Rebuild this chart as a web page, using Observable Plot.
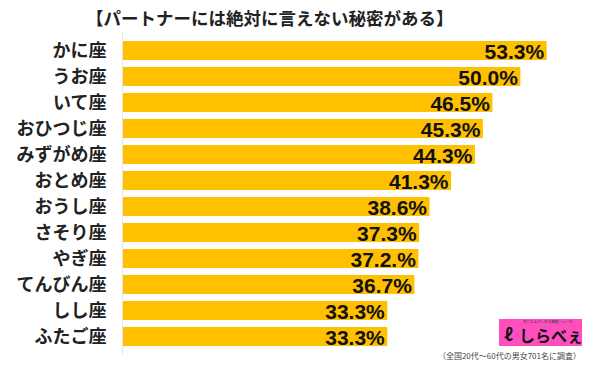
<!DOCTYPE html>
<html>
<head>
<meta charset="utf-8">
<script src="https://cdn.jsdelivr.net/npm/d3@7"></script>
<script src="https://cdn.jsdelivr.net/npm/@observablehq/plot@0.6"></script>
<style>
  html, body { margin: 0; padding: 0; background: #fff; }
  body { width: 600px; height: 365px; position: relative; overflow: hidden; font-family: "Noto Sans CJK JP", sans-serif; }
  #title { height: 33px; line-height: 36px; font-size: 17.5px; font-weight: bold; color: #222; padding-left: 86px; white-space: nowrap; }
  #chart { height: 321px; }
  #caption { position: absolute; right: 19px; top: 350px; font-size: 8px; color: #444; white-space: nowrap; line-height: 11px; }
  #logo { position: absolute; left: 499px; top: 319px; width: 83px; height: 27px; background: #ff4fbf; box-sizing: border-box; overflow: hidden; }
  #logo .small { position: absolute; left: 24px; top: 1px; font-size: 3.5px; line-height: 4px; color: #333; white-space: nowrap; }
  #logo .big { position: absolute; left: 20px; top: 7px; font-size: 16px; line-height: 18px; font-weight: bold; color: #111; white-space: nowrap; }
  #logo .icon { position: absolute; left: 5px; top: 5px; font-size: 17px; line-height: 20px; font-weight: bold; color: #111; }
</style>
</head>
<body>
<div id="title">【パートナーには絶対に言えない秘密がある】</div>
<div id="chart"></div>
<div id="logo"><span class="small">気になるアレを大調査ニュース!</span><span class="icon">ℓ</span><span class="big">しらべぇ</span></div>
<div id="caption">（全国20代～60代の男女701名に調査）</div>
<script>
const signs = ["かに座", "うお座", "いて座", "おひつじ座", "みずがめ座", "おとめ座", "おうし座", "さそり座", "やぎ座", "てんびん座", "しし座", "ふたご座"];
const values = [53.3, 50.0, 46.5, 45.3, 44.3, 41.3, 38.6, 37.3, 37.2, 36.7, 33.3, 33.3];
const valueLabels = ["53.3%", "50.0%", "46.5%", "45.3%", "44.3%", "41.3%", "38.6%", "37.3%", "37.2.%", "36.7%", "33.3%", "33.3%"];

const data = signs.map((s, i) => ({sign: s, value: values[i], label: valueLabels[i]}));

const chart = Plot.plot({
  width: 600,
  height: 321,
  marginLeft: 122,
  marginRight: 0,
  marginTop: 0,
  marginBottom: 0,
  x: {domain: [0, 60], axis: null},
  y: {domain: signs, paddingInner: 0.27, paddingOuter: 0.1, label: null, tickSize: 0, tickPadding: 16},
  style: {fontFamily: "'Noto Sans CJK JP', sans-serif", background: "#fff"},
  marks: [
    Plot.axisY({tickSize: 0, tickPadding: 16, fontSize: 18, fontWeight: "bold", fill: "#222", label: null}),
    Plot.barX(data, {y: "sign", x: "value", fill: "#ffc000"}),
    Plot.ruleX([0], {stroke: "#e6e6e6", strokeWidth: 1}),
    Plot.text(data, {y: "sign", x: "value", text: "label", textAnchor: "end", dx: -3, dy: 1, fontSize: 21, fontWeight: "bold", fill: "#111", fontFamily: "'Liberation Sans', Arial, sans-serif"})
  ]
});
document.getElementById("chart").appendChild(chart);
</script>
</body>
</html>
